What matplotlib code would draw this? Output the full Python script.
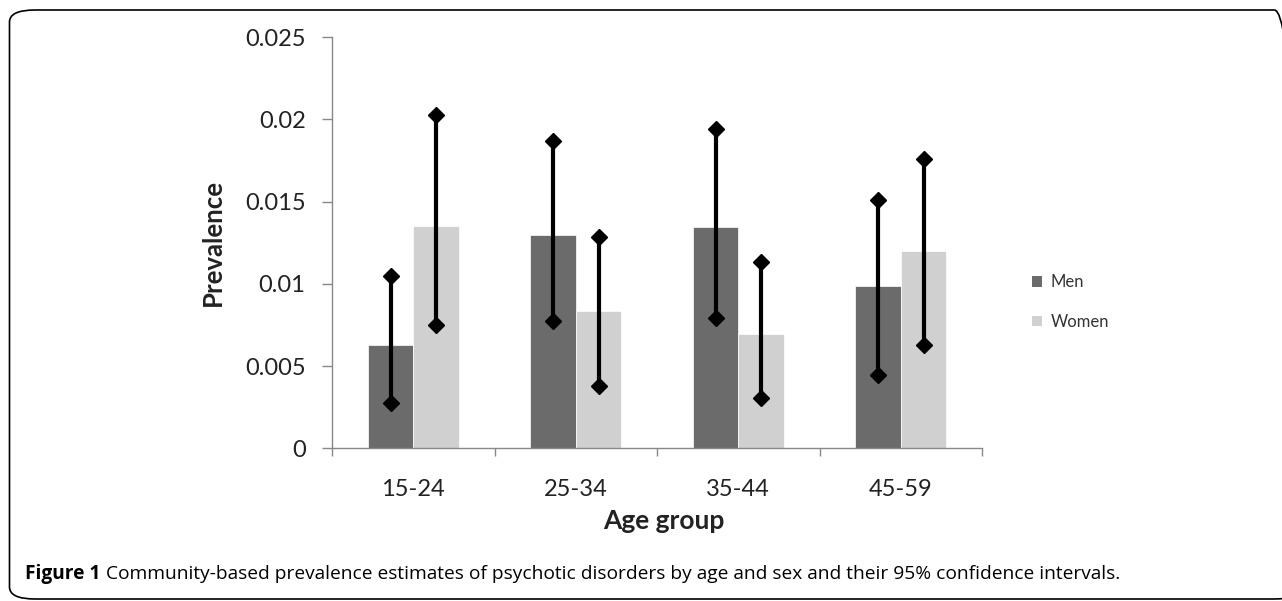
import matplotlib
matplotlib.use("Agg")
import matplotlib.pyplot as plt
from matplotlib.patches import Patch, FancyBboxPatch
import numpy as np

categories = ["15-24", "25-34", "35-44", "45-59"]
men = [0.00628, 0.01295, 0.01343, 0.00985]
women = [0.01351, 0.00837, 0.00693, 0.01199]
men_lo = [0.00274, 0.00776, 0.00794, 0.00446]
men_hi = [0.01047, 0.01870, 0.01941, 0.01508]
women_lo = [0.00750, 0.00379, 0.00304, 0.00628]
women_hi = [0.02026, 0.01286, 0.01134, 0.01759]
yticks = [0, 0.005, 0.01, 0.015, 0.02, 0.025]
ytick_labels = ["0", "0.005", "0.01", "0.015", "0.02", "0.025"]

MEN_C = "#6b6b6b"
WOMEN_C = "#d0d0d0"
AXIS_C = "#888888"
FONT = "Lato"

fig = plt.figure(figsize=(12.82, 6.01), dpi=100)
W, H = 1282, 601
ax = fig.add_axes([332 / W, 1 - 448.3 / H, (982 - 332) / W, (448.3 - 37) / H])

x = np.arange(len(categories))
w = 0.28
ax.bar(x - w / 2, men, width=w, color=MEN_C, edgecolor="white", linewidth=0.5, zorder=2)
ax.bar(x + w / 2, women, width=w, color=WOMEN_C, edgecolor="white", linewidth=0.5, zorder=2)

for xi, lo, hi in zip(x - w / 2, men_lo, men_hi):
    ax.plot([xi, xi], [lo, hi], color="black", lw=3, marker="D", ms=8.5, zorder=3)
for xi, lo, hi in zip(x + w / 2, women_lo, women_hi):
    ax.plot([xi, xi], [lo, hi], color="black", lw=3, marker="D", ms=8.5, zorder=3)

ax.set_xlim(-0.5, len(categories) - 0.5)
ax.set_ylim(0, 0.025)
ax.set_yticks(yticks)
ax.set_yticklabels(ytick_labels, fontsize=17, family=FONT, color="#222222")
ax.set_xticks(x)
ax.set_xticklabels(categories, fontsize=17, family=FONT, color="#222222")
ax.set_xticks(np.arange(-0.5, len(categories)), minor=True)
ax.tick_params(axis="x", which="major", length=0, pad=22)
ax.tick_params(axis="x", which="minor", length=6, direction="out", color=AXIS_C, width=1)
ax.tick_params(axis="y", length=7, direction="out", color=AXIS_C, width=1, pad=12)
for s in ["top", "right"]:
    ax.spines[s].set_visible(False)
for s in ["left", "bottom"]:
    ax.spines[s].set_color(AXIS_C)
    ax.spines[s].set_linewidth(1)

fig.text(213 / W, 1 - 243 / H, "Prevalence", rotation=90, ha="center", va="center",
         fontsize=18.5, fontweight="bold", family=FONT, color="#222222")
fig.text(664 / W, 1 - 521 / H, "Age group", ha="center", va="center",
         fontsize=19, fontweight="bold", family=FONT, color="#222222")

handles = [Patch(facecolor=MEN_C, edgecolor="none"), Patch(facecolor=WOMEN_C, edgecolor="none")]
leg = fig.legend(handles, ["Men", "Women"], loc="center left",
                 bbox_to_anchor=(1017 / W, 1 - 302 / H), frameon=False,
                 handlelength=0.6, handleheight=0.6, handletextpad=0.5,
                 labelspacing=1.4, prop={"family": FONT, "size": 12})
for t in leg.get_texts():
    t.set_color("#333333")

# caption
cap_y = 1 - 574 / H
t1 = fig.text(25 / W, cap_y, "Figure 1", ha="left", va="center", fontsize=13.8,
              fontweight="bold", family="Open Sans", color="black")
fig.canvas.draw()
bb = t1.get_window_extent()
fig.text((bb.x1 + 6) / W, cap_y,
         "Community-based prevalence estimates of psychotic disorders by age and sex and their 95% confidence intervals.",
         ha="left", va="center", fontsize=13.8, family="Open Sans", color="black")

# rounded frame
frame = FancyBboxPatch((9.5 / W, 1 - 599 / H), (1300 - 9.5) / W, (599 - 10) / H,
                       boxstyle="round,pad=0,rounding_size=0.02", transform=fig.transFigure,
                       fill=False, edgecolor="black", linewidth=1.2, clip_on=False)
fig.patches.append(frame)

fig.savefig("out.png", dpi=100)
